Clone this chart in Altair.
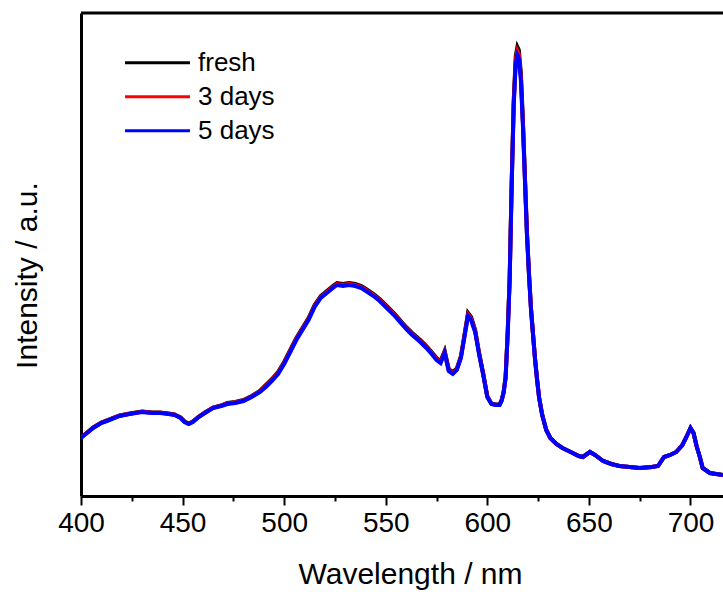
import altair as alt
import pandas as pd

wavelength = [400,403,406,410,414,419,424,430,435,439,
              443,446,449,451,453,455,458,461,465,469,
              472,476,480,484,488,491,494,497,500,503,
              506,509,512,515,518,521,524,526,529,532,
              535,538,541,544,547,550,554,557,560,563,
              567,570,573,575,577,578,579,580,581,583,
              585,587,588.5,590.5,592,594,596,598,600,602,
              604,606,607,608,609,610,611,612,613,614,
              614.8,615.5,616.5,617.5,618.5,619.5,620.5,621.5,622.5,623.5,
              624.5,625.5,627,629,631,634,637,641,645,647,
              650.5,653,657,661,665,670,675,681,684,687,
              690,693,696,698,700,701.5,703,704.6,706,709.5,
              716]

fresh = [58.5,63.5,68.5,73.5,76.5,80.5,82.5,84.5,83.5,83.5,
         82.5,81.5,78.5,74.5,72.5,74.5,79.5,83.5,88.5,90.5,
         93,94,96,100,105,111,117,124,134,146,
         158,168,178,191,200,205,210,213,212,213,
         212,210,206,202,197,191,183,176,169,163,
         156,150,143,138,135,140,145,136,127,124,
         127.5,140,158,183,179,166,142.5,122,99.5,92.5,
         91.5,91.5,95.5,104,119.5,163,219,315,396,440,
         449,446,423,376,320,264,223,187.5,162,137,
         116.5,98.5,81.5,66,58,52,48,44,40,39,
         44,41,35,32,30,29,28,29,30,39,
         41,44,51,59,68,63,50,39,28,23,
         21]

days3 = [58.3,63.3,68.3,73.3,76.3,80.3,82.3,84.3,83.3,83.3,
         82.3,81.3,78.3,74.3,72.3,74.3,79.3,83.3,88.3,90.3,
         92.5,93.5,95.5,99.5,104.5,110,116,123,133,145,
         157,167,177,190,199,204,209,212,211,212,
         211,209,205,201,196,190,182,175,168,162,
         155,149,142,137,134,139,144,135,126,123,
         126.8,139,157,181.5,177.5,165,141.8,121.5,99.3,92.2,
         91.2,91.2,95.2,103.5,118.8,162,217.5,313,393.5,436.5,
         445,442,419.5,373.5,318,262.5,222,186.8,161.5,136.5,
         116,98,81,66,58,52,48,44,40,39,
         44,41,35,32,30,29,28,29,30,39,
         41,44,51,59,68,63,50,39,28,23,
         21]

days5 = [58,63,68,73,76,80,82,84,83,83,
         82,81,78,74,72,74,79,83,88,90,
         92,93,95,99,104,109,115,122,132,144,
         156,166,176,189,198,203,208,211,210,211,
         210,208,204,200,195,189,181,174,167,161,
         154,148,141,136,133,138,143,134,125,122,
         126,138,156,180,176,164,141,121,99,92,
         91,91,95,103,118,161,216,311,391,433,
         441,438,416,371,316,261,221,186,161,136,
         116,98,81,66,58,52,48,44,40,39,
         44,41,35,32,30,29,28,29,30,39,
         41,44,51,59,68,63,50,39,28,23,
         21]

series_names = ["fresh", "3 days", "5 days"]
series_colors = ["#000000", "#ff0000", "#0000ff"]
x_ticks = list(range(400, 701, 25))

FONT = "Liberation Sans"
W, H = 642, 483

frames = []
for name, vals in zip(series_names, [fresh, days3, days5]):
    frames.append(pd.DataFrame({"wl": wavelength, "val": vals, "series": name}))

color_scale = alt.Scale(domain=series_names, range=series_colors)
x_scale = alt.Scale(domain=[400, 716], nice=False, zero=False)
y_scale = alt.Scale(domain=[0, 483], nice=False, zero=False)

legend = alt.Legend(
    orient="none", legendX=63.5, legendY=36.7, title=None,
    symbolType="M-3,0L3,0", symbolSize=469, symbolStrokeWidth=3,
    labelFontSize=26, labelFont=FONT, labelColor="#000000",
    rowPadding=8, padding=0, labelOffset=27.5, symbolOffset=0,
)

x_axis = alt.Axis(
    title="Wavelength / nm", values=x_ticks, grid=False,
    domainColor="#000000", domainWidth=3,
    tickColor="#000000", tickWidth=2,
    tickSize={"condition": {"test": "datum.value % 50 === 0", "value": 9}, "value": 5},
    labelExpr="datum.value % 50 === 0 ? datum.label : ''",
    labelFont=FONT, labelFontSize=28, labelColor="#000000", labelPadding=4,
    labelFlush=False, labelOverlap=False,
    titleFont=FONT, titleFontSize=30, titleFontWeight="normal", titleColor="#000000",
    titleX=329, titleY=87, titleBaseline="alphabetic", titleAlign="center",
)
y_axis = alt.Axis(
    title="Intensity / a.u.", grid=False, ticks=False, labels=False,
    domainColor="#000000", domainWidth=3,
    titleFont=FONT, titleFontSize=30, titleFontWeight="normal", titleColor="#000000",
    titleX=-45, titleY=262, titleBaseline="alphabetic", titleAlign="center", titleAngle=270,
)

layers = []
for df in frames:
    layers.append(
        alt.Chart(df).mark_line(strokeWidth=4, clip=True).encode(
            x=alt.X("wl:Q", scale=x_scale, axis=x_axis),
            y=alt.Y("val:Q", scale=y_scale, axis=y_axis),
            color=alt.Color("series:N", scale=color_scale, legend=legend),
            order=alt.Order("wl:Q"),
        )
    )

top_border = alt.Chart(pd.DataFrame({"a": [0]})).mark_rule(
    strokeWidth=3, color="#000000"
).encode(x=alt.value(0), x2=alt.value(W), y=alt.value(0))

chart = alt.layer(*layers, top_border).properties(
    width=W, height=H,
    autosize=alt.AutoSizeParams(type="none"),
    padding={"left": 81, "top": 13, "right": 0, "bottom": 96},
    background="#ffffff",
).configure_view(stroke=None)

chart.save("out.html", embed_options={"renderer": "svg", "actions": False})
